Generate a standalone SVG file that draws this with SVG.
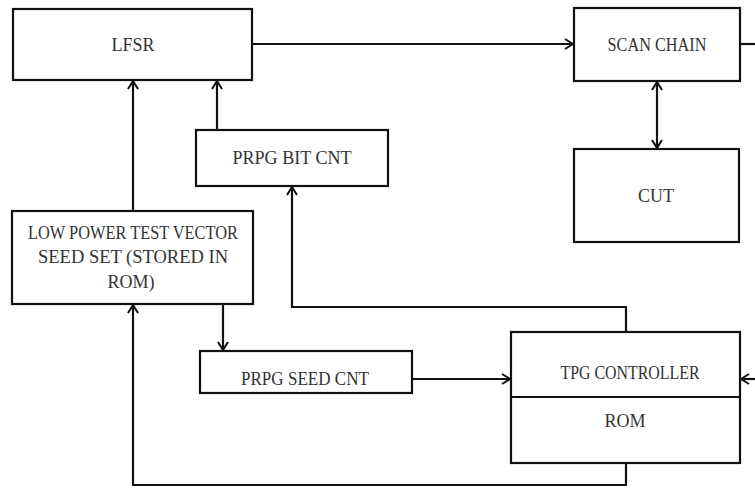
<svg xmlns="http://www.w3.org/2000/svg" width="755" height="488" viewBox="0 0 755 488">
<style>
.box{fill:#fff;stroke:#111;stroke-width:2.2}
.ln{fill:none;stroke:#111;stroke-width:2.2}
text{font-family:"Liberation Serif",serif;font-size:18px;fill:#333;text-anchor:middle}
</style>
<defs>
<marker id="ah" viewBox="0 0 12 12" refX="11" refY="6" markerWidth="12" markerHeight="12" markerUnits="userSpaceOnUse" orient="auto-start-reverse">
<path d="M3,1 L11,6 L3,11" fill="none" stroke="#111" stroke-width="2"/>
</marker>
</defs>
<g id="connectors">
<path class="ln" d="M252,44 H573" marker-end="url(#ah)"/>
<path class="ln" d="M740,44 H755"/>
<path class="ln" d="M657,82 V148" marker-start="url(#ah)" marker-end="url(#ah)"/>
<path class="ln" d="M217,130 V81" marker-end="url(#ah)"/>
<path class="ln" d="M133,211 V81" marker-end="url(#ah)"/>
<path class="ln" d="M223,304 V350" marker-end="url(#ah)"/>
<path class="ln" d="M412,379 H510" marker-end="url(#ah)"/>
<path class="ln" d="M755,379 H741" marker-end="url(#ah)"/>
<path class="ln" d="M626,332 V307 H292 V187" marker-end="url(#ah)"/>
<path class="ln" d="M626,463 V485 H133 V305" marker-end="url(#ah)"/>
</g>
<g id="lfsr"><rect class="box" x="13" y="9" width="239" height="71"/><text x="133" y="51">LFSR</text></g>
<g id="scan-chain"><rect class="box" x="574" y="8" width="166" height="73"/><text x="657" y="51" textLength="99" lengthAdjust="spacingAndGlyphs">SCAN CHAIN</text></g>
<g id="cut"><rect class="box" x="574" y="149" width="165" height="93"/><text x="656" y="202">CUT</text></g>
<g id="prpg-bit-cnt"><rect class="box" x="196" y="130" width="192" height="56"/><text x="292" y="164" textLength="119" lengthAdjust="spacingAndGlyphs">PRPG BIT CNT</text></g>
<g id="seed-set"><rect class="box" x="12" y="211" width="241" height="93"/>
<text x="133" y="239" textLength="210" lengthAdjust="spacingAndGlyphs">LOW POWER TEST VECTOR</text>
<text x="133" y="263" textLength="190" lengthAdjust="spacingAndGlyphs">SEED SET (STORED IN</text>
<text x="131" y="288">ROM)</text></g>
<g id="prpg-seed-cnt"><rect class="box" x="200" y="351" width="212" height="42"/><text x="305" y="385" textLength="128" lengthAdjust="spacingAndGlyphs">PRPG SEED CNT</text></g>
<g id="tpg-controller"><rect class="box" x="511" y="332" width="229" height="131"/><line class="ln" x1="511" y1="397" x2="740" y2="397"/>
<text x="630" y="379" textLength="139" lengthAdjust="spacingAndGlyphs">TPG CONTROLLER</text>
<text x="625" y="427">ROM</text></g>
</svg>
